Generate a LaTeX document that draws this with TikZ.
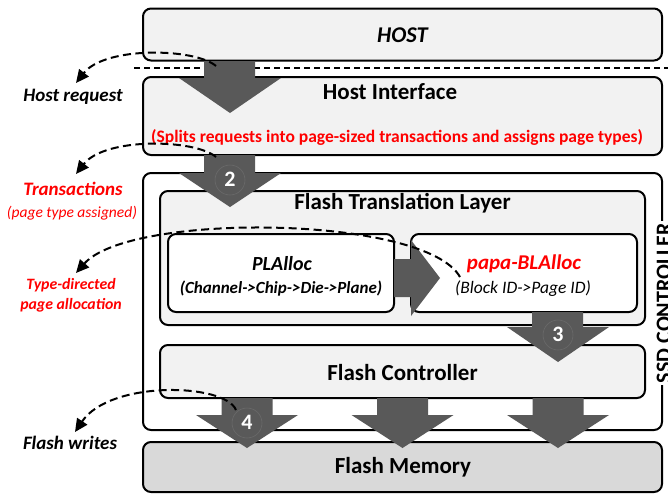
\documentclass[tikz,border=0pt]{standalone}
\usepackage{fontspec}
\setmainfont{Carlito}
\usetikzlibrary{arrows.meta}
\definecolor{boxfill}{HTML}{F2F2F2}
\definecolor{memfill}{HTML}{D9D9D9}
\definecolor{arrfill}{HTML}{595959}
\definecolor{numring}{HTML}{6A6A6A}
\definecolor{myred}{HTML}{FF0000}
\begin{document}
\begin{tikzpicture}[x=1pt,y=-1pt,
  box/.style={draw=black, line width=2pt, rounded corners=8pt, fill=boxfill, inner sep=0pt},
  barrow/.style={fill=arrfill},
  dasharrow/.style={line width=2pt, dash pattern=on 8pt off 4.5pt, -{Triangle[length=13pt,width=12pt]}},
  bigtitle/.style={font=\bfseries\fontsize{23}{27}\selectfont, inner sep=0pt},
  bigital/.style={font=\bfseries\itshape\fontsize{22.5}{27}\selectfont, inner sep=0pt},
  subital/.style={font=\bfseries\itshape\fontsize{17}{20}\selectfont, inner sep=0pt},
  sidelabel/.style={font=\bfseries\itshape\fontsize{19}{22}\selectfont, inner sep=1pt, align=center},
  numlabel/.style={font=\bfseries\fontsize{22}{26}\selectfont, text=white, inner sep=0pt},
  numring/.style={draw=numring, line width=0.6pt, fill=arrfill}
]
\useasboundingbox (0,0) rectangle (668,493);

% boxes
\node[box, minimum width=519pt, minimum height=52pt] (host) at (402.5,34.5) {};
\node[bigital] (hosttxt) at (402.5,35) {HOST};
\draw[line width=1.5pt, dash pattern=on 6pt off 4pt] (134,68) coordinate (sepl) -- (668,68) coordinate (sepr);
\node[box, minimum width=519pt, minimum height=78pt] (hi) at (402.5,116) {};
\node[bigtitle] (hititle) at (390,92) {Host Interface};
\node[font=\bfseries\fontsize{17.5}{21}\selectfont, text=myred, inner sep=0pt] (hitxt) at (397,137) {(Splits requests into page-sized transactions and assigns page types)};

\node[box, fill=white, minimum width=519pt, minimum height=257pt] (ssd) at (402.5,301.5) {};
\node[box, minimum width=485pt, minimum height=134pt] (ftl) at (402.5,258) {};
\node[bigtitle] (ftltitle) at (402.5,203) {Flash Translation Layer};
\node[box, fill=white, minimum width=226pt, minimum height=78pt] (pl) at (281,273) {};
\node[bigital, font=\bfseries\itshape\fontsize{20}{24}\selectfont] (pltitle) at (282,264) {PLAlloc};
\node[subital] (pltxt) at (281,289) {(Channel->Chip->Die->Plane)};
\node[box, fill=white, minimum width=226pt, minimum height=78pt] (papa) at (524,273) {};
\node[bigital, font=\bfseries\itshape\fontsize{21}{25}\selectfont, text=myred] (papatitle) at (524,264) {papa-BLAlloc};
\node[font=\itshape\fontsize{17.5}{21}\selectfont, inner sep=0pt] (papatxt) at (523,289) {(Block ID->Page ID)};
\node[box, minimum width=485pt, minimum height=53pt] (fc) at (402.5,371.5) {};
\node[bigtitle] (fctitle) at (402.5,373) {Flash Controller};
\node[box, fill=memfill, minimum width=519pt, minimum height=50pt] (fm) at (402.5,467) {};
\node[bigtitle] (fmtitle) at (403,467) {Flash Memory};
\node[font=\bfseries\fontsize{22}{26}\selectfont, fill=white, inner sep=2pt, rotate=90] (ssdlabel) at (664,303) {SSD CONTROLLER};

% block arrows
\fill[barrow] (204,61) -- (255,61) -- (255,78) -- (281,78) -- (230,113) -- (179,78) -- (204,78) -- cycle;
\fill[barrow] (204,155) -- (255,155) -- (255,173) -- (281,173) -- (230,207) -- (179,173) -- (204,173) -- cycle;
\fill[barrow] (394,259) -- (411,259) -- (411,240) -- (440,278) -- (411,316) -- (411,297) -- (394,297) -- cycle;
\fill[barrow] (532,312) -- (583,312) -- (583,327) -- (609,327) -- (558,362) -- (507,327) -- (532,327) -- cycle;
\foreach \cx in {247,402.5,558}{
  \fill[barrow] (\cx-25.5,398) -- (\cx+25.5,398) -- (\cx+25.5,415) -- (\cx+51,415) -- (\cx,448) -- (\cx-51,415) -- (\cx-25.5,415) -- cycle;
}
\draw[numring] (230,180) circle (15pt);
\node[numlabel] (n2) at (230,179) {2};
\draw[numring] (558,335) circle (15pt);
\node[numlabel] (n3) at (558,334) {3};
\draw[numring] (247,423) circle (15pt);
\node[numlabel] (n4) at (247,422) {4};

% side labels
\node[sidelabel] (hostreq) at (73,97) {Host request};
\node[sidelabel, text=myred, font=\bfseries\itshape\fontsize{19}{22}\selectfont] (trans) at (73,189) {Transactions};
\node[font=\itshape\fontsize{15.5}{18}\selectfont, text=myred, inner sep=0pt] (transsub) at (72,213) {(page type assigned)};
\node[sidelabel, text=myred, font=\bfseries\itshape\fontsize{15.8}{20}\selectfont] (typedir) at (71,295) {Type-directed\\page allocation};
\node[sidelabel] (fwrites) at (70,443) {Flash writes};

% dashed curved arrows
\coordinate (s1) at (216,66);
\coordinate (s2) at (216,157);
\coordinate (s3) at (460,277);
\coordinate (s4) at (236,410);
\coordinate (e1) at (76,83);
\coordinate (e2) at (76,174);
\coordinate (e3) at (76,273);
\coordinate (e4) at (75,432);
\draw[dasharrow] (s1) .. controls (195,48) and (105,46) .. (e1);
\draw[dasharrow] (s2) .. controls (195,139) and (105,137) .. (e2);
\draw[dasharrow] (s3) .. controls (425,215) and (130,212) .. (e3);
\draw[dasharrow] (s4) .. controls (225,383) and (110,380) .. (e4);
\end{tikzpicture}
\end{document}
